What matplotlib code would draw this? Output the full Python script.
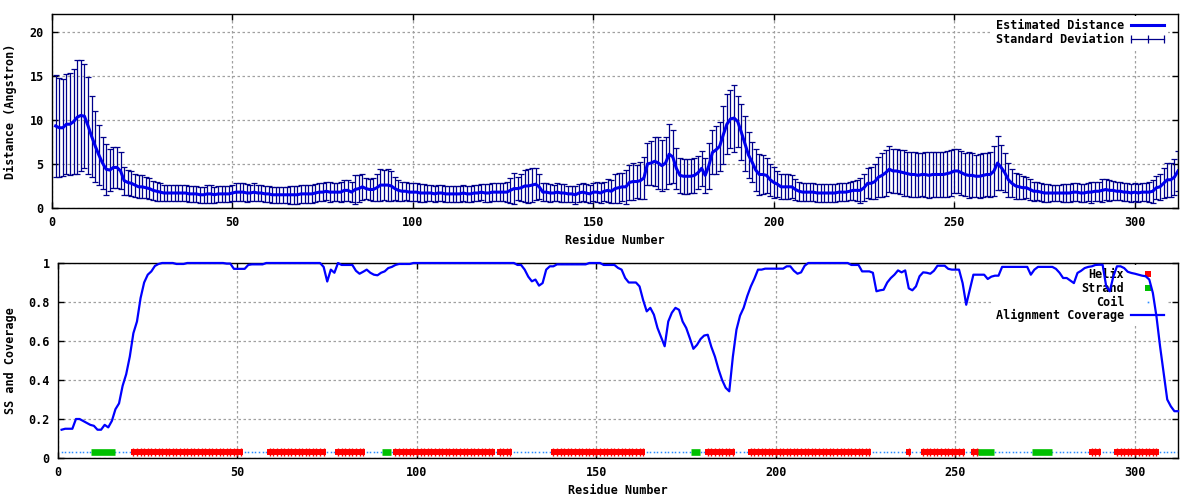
import numpy as np
import matplotlib
matplotlib.use('Agg')
import matplotlib.pyplot as plt
from matplotlib.lines import Line2D
from matplotlib.legend_handler import HandlerLine2D
from matplotlib.ticker import FormatStrFormatter

# per residue values (residues 1..312)
distance = [
    9.3, 9.1, 9.1, 9.5, 9.5, 9.8, 10.3, 10.5, 10.4, 9.3,
    8.1, 7.0, 6.0, 5.1, 4.4, 4.3, 4.6, 4.6, 4.2, 3.1,
    2.9, 2.8, 2.6, 2.4, 2.4, 2.3, 2.2, 2.0, 1.9, 1.8,
    1.7, 1.7, 1.7, 1.7, 1.7, 1.7, 1.7, 1.6, 1.6, 1.6,
    1.5, 1.5, 1.6, 1.6, 1.5, 1.6, 1.6, 1.6, 1.6, 1.7,
    1.8, 1.8, 1.8, 1.7, 1.7, 1.8, 1.7, 1.7, 1.6, 1.6,
    1.5, 1.5, 1.5, 1.5, 1.5, 1.5, 1.5, 1.5, 1.6, 1.6,
    1.6, 1.6, 1.7, 1.8, 1.8, 1.9, 1.8, 1.8, 1.8, 1.8,
    2.0, 2.0, 1.8, 2.1, 2.2, 2.4, 2.2, 2.1, 2.1, 2.3,
    2.6, 2.6, 2.6, 2.5, 2.2, 2.0, 1.9, 1.9, 1.8, 1.8,
    1.8, 1.7, 1.7, 1.7, 1.7, 1.6, 1.7, 1.7, 1.6, 1.6,
    1.6, 1.6, 1.6, 1.7, 1.6, 1.6, 1.7, 1.7, 1.8, 1.7,
    1.7, 1.8, 1.8, 1.8, 1.8, 1.8, 2.0, 2.2, 2.2, 2.3,
    2.5, 2.5, 2.6, 2.7, 2.4, 1.8, 1.8, 1.7, 1.7, 1.8,
    1.7, 1.7, 1.6, 1.6, 1.5, 1.7, 1.8, 1.7, 1.6, 1.8,
    1.8, 1.7, 1.9, 2.0, 1.9, 2.2, 2.3, 2.4, 2.4, 2.9,
    3.0, 3.0, 3.1, 3.4, 5.0, 5.1, 5.3, 5.1, 4.8, 5.1,
    6.1, 5.8, 4.5, 3.7, 3.6, 3.6, 3.6, 3.7, 4.0, 4.5,
    3.7, 4.8, 6.3, 6.6, 7.0, 8.3, 9.5, 10.1, 10.2, 9.8,
    8.6, 7.3, 6.0, 5.2, 4.3, 3.8, 3.8, 3.7, 3.2, 2.9,
    2.7, 2.4, 2.4, 2.4, 2.4, 2.1, 1.9, 1.8, 1.8, 1.8,
    1.8, 1.7, 1.7, 1.7, 1.7, 1.7, 1.7, 1.8, 1.8, 1.8,
    1.9, 2.0, 2.0, 2.0, 2.3, 2.8, 2.8, 3.0, 3.5, 3.7,
    4.0, 4.4, 4.2, 4.2, 4.1, 4.0, 3.9, 3.8, 3.8, 3.7,
    3.8, 3.8, 3.7, 3.8, 3.8, 3.8, 3.8, 3.9, 4.0, 4.2,
    4.2, 4.0, 3.8, 3.7, 3.7, 3.6, 3.6, 3.7, 3.8, 3.8,
    4.2, 5.1, 4.6, 4.0, 3.2, 2.8, 2.5, 2.4, 2.3, 2.3,
    2.1, 1.9, 1.9, 1.8, 1.7, 1.7, 1.7, 1.7, 1.7, 1.7,
    1.7, 1.7, 1.8, 1.8, 1.7, 1.7, 1.8, 1.8, 1.9, 1.9,
    2.0, 2.1, 2.0, 2.0, 1.9, 1.9, 1.8, 1.8, 1.7, 1.8,
    1.7, 1.8, 1.8, 1.8, 1.9, 2.3, 2.4, 2.8, 3.2, 3.2,
    3.5, 4.2,
]

std_dev = [
    5.8, 5.6, 5.5, 5.7, 5.8, 6.0, 6.5, 6.3, 5.9, 5.5,
    4.6, 4.0, 3.4, 3.0, 2.9, 2.4, 2.3, 2.3, 2.1, 1.6,
    1.4, 1.4, 1.3, 1.3, 1.3, 1.2, 1.2, 1.1, 1.1, 1.0,
    0.9, 0.9, 0.9, 0.9, 0.9, 0.9, 0.9, 0.9, 0.9, 0.9,
    0.9, 0.9, 1.0, 1.0, 0.9, 0.9, 0.9, 0.9, 0.9, 0.9,
    1.0, 1.0, 1.0, 1.0, 0.9, 1.0, 0.9, 0.9, 0.9, 0.9,
    0.9, 0.9, 0.9, 0.9, 0.9, 1.0, 1.0, 1.0, 1.0, 1.0,
    1.0, 1.0, 1.0, 1.0, 1.0, 1.0, 1.1, 1.0, 1.0, 1.1,
    1.2, 1.2, 1.1, 1.6, 1.5, 1.5, 1.2, 1.2, 1.3, 1.5,
    1.8, 1.7, 1.8, 1.7, 1.3, 1.2, 1.1, 1.0, 1.0, 1.0,
    1.0, 1.0, 1.0, 0.9, 0.9, 0.9, 0.9, 0.9, 0.9, 0.9,
    0.9, 0.9, 0.9, 0.9, 0.9, 0.9, 0.9, 0.9, 0.9, 1.0,
    1.0, 1.0, 1.0, 1.0, 1.0, 1.1, 1.4, 1.8, 1.3, 1.5,
    1.8, 1.9, 1.9, 1.8, 1.4, 1.0, 1.0, 1.0, 0.9, 1.0,
    1.0, 1.0, 0.9, 0.9, 1.0, 1.0, 1.0, 1.0, 1.0, 1.0,
    1.1, 1.1, 1.1, 1.3, 1.3, 1.6, 1.7, 1.6, 1.9, 2.0,
    2.1, 1.9, 2.1, 2.4, 2.4, 2.5, 2.8, 2.9, 2.9, 3.0,
    3.4, 3.0, 2.3, 2.0, 2.0, 2.0, 1.9, 2.0, 1.9, 2.0,
    2.0, 2.6, 2.5, 2.7, 2.8, 3.3, 3.4, 3.3, 3.8, 2.9,
    3.2, 3.1, 2.6, 2.3, 2.4, 2.3, 2.2, 2.0, 1.8, 1.8,
    1.5, 1.4, 1.4, 1.4, 1.3, 1.2, 1.1, 1.0, 1.0, 1.0,
    1.0, 1.0, 1.0, 1.0, 1.0, 1.0, 1.0, 1.0, 1.0, 1.0,
    1.0, 1.1, 1.2, 1.4, 1.5, 1.7, 1.8, 2.0, 2.3, 2.5,
    2.6, 2.6, 2.5, 2.5, 2.5, 2.6, 2.5, 2.5, 2.6, 2.5,
    2.4, 2.5, 2.6, 2.5, 2.6, 2.5, 2.5, 2.6, 2.6, 2.5,
    2.5, 2.5, 2.4, 2.6, 2.5, 2.4, 2.5, 2.5, 2.4, 2.6,
    2.8, 3.1, 2.6, 2.2, 1.9, 1.6, 1.5, 1.4, 1.3, 1.2,
    1.2, 1.1, 1.0, 1.0, 1.0, 1.0, 0.9, 0.9, 0.9, 1.0,
    1.0, 1.0, 1.0, 1.0, 1.0, 1.0, 1.0, 1.2, 1.1, 1.1,
    1.3, 1.2, 1.2, 1.1, 1.0, 1.0, 1.0, 1.0, 1.0, 1.0,
    1.0, 1.0, 1.0, 1.1, 1.3, 1.3, 1.5, 1.7, 1.9, 1.9,
    2.0, 2.3,
]

coverage = [
    0.145, 0.15, 0.15, 0.15, 0.2, 0.2, 0.19, 0.18, 0.17, 0.165,
    0.145, 0.145, 0.17, 0.157, 0.19, 0.25, 0.28, 0.37, 0.43, 0.52,
    0.64, 0.7, 0.82, 0.9, 0.94, 0.957, 0.985, 0.995, 1.0, 1.0,
    1.0, 1.0, 0.995, 0.995, 0.995, 1.0, 1.0, 1.0, 1.0, 1.0,
    1.0, 1.0, 1.0, 1.0, 1.0, 1.0, 0.997, 0.997, 0.97, 0.97,
    0.97, 0.97, 0.99, 0.993, 0.993, 0.993, 0.993, 1.0, 1.0, 1.0,
    1.0, 1.0, 1.0, 1.0, 1.0, 1.0, 1.0, 1.0, 1.0, 1.0,
    1.0, 1.0, 1.0, 0.98, 0.905, 0.966, 0.95, 1.0, 0.99, 0.99,
    0.99, 0.99, 0.96, 0.945, 0.955, 0.966, 0.95, 0.94, 0.937, 0.95,
    0.957, 0.974, 0.98, 0.99, 0.995, 0.995, 0.995, 0.995, 1.0, 1.0,
    1.0, 1.0, 1.0, 1.0, 1.0, 1.0, 1.0, 1.0, 1.0, 1.0,
    1.0, 1.0, 1.0, 1.0, 1.0, 1.0, 1.0, 1.0, 1.0, 1.0,
    1.0, 1.0, 1.0, 1.0, 1.0, 1.0, 1.0, 0.99, 0.99, 0.966,
    0.93, 0.906, 0.915, 0.884, 0.897, 0.966, 0.983, 0.983, 0.993, 0.993,
    0.993, 0.993, 0.993, 0.993, 0.993, 0.993, 0.993, 1.0, 1.0, 1.0,
    1.0, 0.99, 0.99, 0.99, 0.99, 0.975, 0.966, 0.923, 0.9, 0.9,
    0.9, 0.88, 0.81, 0.752, 0.77, 0.735, 0.667, 0.62, 0.573, 0.7,
    0.745, 0.77, 0.76, 0.7, 0.667, 0.615, 0.56, 0.58, 0.61, 0.628,
    0.632, 0.57, 0.52, 0.455, 0.4, 0.36, 0.342, 0.52, 0.658, 0.73,
    0.77, 0.83, 0.88, 0.92, 0.966, 0.966, 0.971, 0.971, 0.971, 0.971,
    0.971, 0.971, 0.983, 0.983, 0.96, 0.945, 0.952, 0.986, 1.0, 1.0,
    1.0, 1.0, 1.0, 1.0, 1.0, 1.0, 1.0, 1.0, 1.0, 1.0,
    0.99, 0.99, 0.99, 0.957, 0.957, 0.957, 0.95, 0.855, 0.86, 0.863,
    0.9, 0.923, 0.94, 0.962, 0.952, 0.962, 0.87, 0.86, 0.88, 0.932,
    0.952, 0.95, 0.945, 0.96, 0.986, 0.986, 0.986, 0.97, 0.966, 0.966,
    0.966, 0.897, 0.786, 0.863, 0.94, 0.94, 0.94, 0.94, 0.918, 0.93,
    0.935, 0.935, 0.98, 0.98, 0.98, 0.98, 0.98, 0.98, 0.98, 0.98,
    0.94, 0.966, 0.98, 0.98, 0.98, 0.98, 0.98, 0.97, 0.95, 0.923,
    0.923, 0.91, 0.897, 0.949, 0.96, 0.974, 0.98, 0.983, 0.99, 0.991,
    0.991, 0.88, 0.855, 0.932, 0.983, 0.983, 0.974, 0.955, 0.949, 0.945,
    0.94, 0.935, 0.932, 0.915, 0.846, 0.726, 0.573, 0.436, 0.3, 0.265,
    0.24, 0.24,
]

# secondary structure segments (first, last residue)
helix_segments = [(21, 51), (59, 74), (78, 85), (94, 121), (123, 126),
                  (138, 163), (181, 188), (193, 226), (237, 237), (241, 252),
                  (255, 256), (288, 290), (295, 306)]
strand_segments = [(10, 15), (91, 92), (177, 178), (257, 260), (272, 276)]

residues = np.arange(1, len(distance) + 1)
distance = np.array(distance)
std_dev = np.array(std_dev)
coverage = np.array(coverage)

ss = np.array(['C'] * len(residues))
for s, e in helix_segments:
    ss[s - 1:e] = 'H'
for s, e in strand_segments:
    ss[s - 1:e] = 'E'

SS_Y = 0.03
FONT = 'DejaVu Sans Mono'
plt.rcParams['font.family'] = [FONT, 'DejaVu Sans']
plt.rcParams['font.weight'] = 'bold'
plt.rcParams['font.size'] = 8.5
plt.rcParams['axes.labelweight'] = 'bold'

fig = plt.figure(figsize=(12, 5), dpi=100)
ax1 = fig.add_axes([52 / 1200, 1 - 208 / 500, 1126 / 1200, 194 / 500])
ax2 = fig.add_axes([58 / 1200, 1 - 458 / 500, 1120 / 1200, 195 / 500])


def style(ax):
    ax.set_axisbelow(True)
    ax.grid(True, color='#a0a0a0', linestyle=(0, (2, 2)), linewidth=0.9)
    ax.tick_params(direction='in', length=4, width=1, top=True, right=True,
                   pad=6, labelsize=8.5)
    for sp in ax.spines.values():
        sp.set_linewidth(1)
    ax.set_xlim(0, 312)
    ax.set_xticks(range(0, 301, 50))


def key(ax, handles, labels, **kw):
    leg = ax.legend(handles, labels, loc='upper right',
                    bbox_to_anchor=(0.991, 0.99), borderaxespad=0,
                    markerfirst=False, handlelength=2.8, handletextpad=0.6,
                    labelspacing=0.05, borderpad=0.3, fancybox=False,
                    facecolor='white', edgecolor='none', framealpha=1, **kw)
    leg.set_zorder(1.5)
    return leg


# top: estimated distance with standard deviation
style(ax1)
ax1.errorbar(residues, distance, yerr=std_dev, fmt='none', ecolor='#00008b',
             elinewidth=0.9, capsize=2, capthick=0.9, zorder=2)
ax1.plot(residues, distance, color='#0000ee', lw=2.2, zorder=3)
ax1.set_ylim(0, 22)
ax1.set_yticks([0, 5, 10, 15, 20])
ax1.set_xlabel('Residue Number')
ax1.set_ylabel('Distance (Angstron)')
ax1.xaxis.set_label_coords(0.5, -0.135)
ax1.yaxis.set_label_coords(-0.031, 0.5)

h_dist = Line2D([], [], color='#0000ee', lw=2.2)
h_std = Line2D([], [], color='#00008b', lw=0.9, marker='|', ms=6, mew=0.9)
key(ax1, [h_dist, h_std], ['Estimated Distance', 'Standard Deviation'],
    handler_map={h_std: HandlerLine2D(numpoints=3, marker_pad=0)})

# bottom: secondary structure and alignment coverage
style(ax2)
coil = ss == 'C'
ax2.plot(residues[coil], np.full(coil.sum(), SS_Y), ls='none', marker='s',
         ms=1.1, mew=0, color='#2a8cff', zorder=2)
for s, e in helix_segments:
    ax2.plot([s - 0.7, e + 0.6], [SS_Y, SS_Y], color='#ff0000', lw=4.3,
             solid_capstyle='butt', zorder=2)
    ax2.plot(np.arange(s, e + 1), np.full(e - s + 1, SS_Y), ls='none',
             marker='|', ms=6, mew=1, color='#ff0000', zorder=2)
for s, e in strand_segments:
    ax2.plot([s - 0.8, e + 0.8], [SS_Y, SS_Y], color='#00c000', lw=4.8,
             solid_capstyle='butt', zorder=2)
ax2.plot(residues, coverage, color='#0000ff', lw=1.6, zorder=3, clip_on=False)
ax2.set_ylim(0, 1)
ax2.set_yticks([0, 0.2, 0.4, 0.6, 0.8, 1.0])
ax2.yaxis.set_major_formatter(FormatStrFormatter('%g'))
ax2.set_xlabel('Residue Number')
ax2.set_ylabel('SS and Coverage')
ax2.xaxis.set_label_coords(0.5, -0.135)
ax2.yaxis.set_label_coords(-0.037, 0.5)

handles = [
    Line2D([], [], ls='none', marker='s', ms=3.8, mew=0, color='#ff0000'),
    Line2D([], [], ls='none', marker='s', ms=5, mew=0, color='#00c000'),
    Line2D([], [], ls='none', marker='s', ms=1.2, mew=0, color='#2a8cff'),
    Line2D([], [], color='#0000ff', lw=1.6),
]
key(ax2, handles, ['Helix', 'Strand', 'Coil', 'Alignment Coverage'])

fig.savefig('out.png', dpi=100)
